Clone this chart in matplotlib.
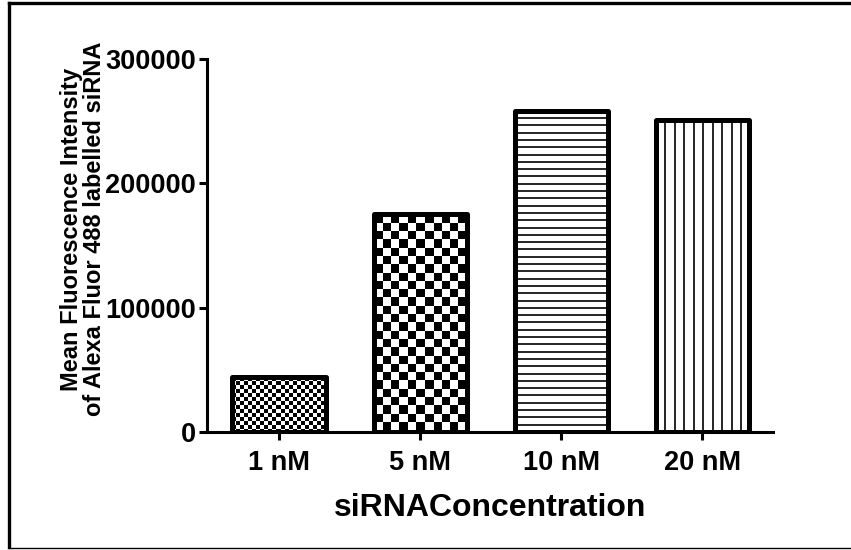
import numpy as np
import matplotlib
matplotlib.use("Agg")
import matplotlib.pyplot as plt
from matplotlib.lines import Line2D

categories = ["1 nM", "5 nM", "10 nM", "20 nM"]
values = [44000, 175000, 258000, 251000]
yticks = [0, 100000, 200000, 300000]
xlabel = "siRNAConcentration"
ylabel = "Mean Fluorescence Intensity\nof Alexa Fluor 488 labelled siRNA"

# pattern per bar (style only): kind, step in pixels
patterns = [("checker", 4.0), ("checker", 8.3), ("hlines", 7.3), ("vlines", 9.5)]

W, H, DPI = 851, 550, 100
plt.rcParams['font.family'] = ['Liberation Sans', 'DejaVu Sans']
plt.rcParams['font.weight'] = 'bold'

fig = plt.figure(figsize=(W / DPI, H / DPI), dpi=DPI)
ax = fig.add_axes([207 / W, 118 / H, (773 - 207) / W, (491.5 - 118) / H])

x = np.arange(len(categories))
bw = 0.66
ax.set_xlim(-0.51, 3.5)
ax.set_ylim(0, 300000)

base = ax.bar(x, values, width=bw, color="white", edgecolor="none", zorder=1)

# pixel -> data scale
px_x = (3.5 - (-0.51)) / (773 - 207)
px_y = 300000 / (491.5 - 118)

def checker(step, h, w):
    ii, jj = np.mgrid[0:h, 0:w]
    return ((np.floor(ii / step) + np.floor(jj / step)) % 2).astype(float)

for rect, (kind, step) in zip(base.patches, patterns):
    x0 = rect.get_x()
    x1 = x0 + rect.get_width()
    top = rect.get_height()
    if kind == "checker":
        bb = rect.get_window_extent(renderer=None)
        w_px = max(int(round(bb.width)), 1)
        h_px = max(int(round(bb.height)), 1)
        img = checker(step, h_px, w_px)
        im = ax.imshow(img, cmap="gray", vmin=0, vmax=1, extent=(x0, x1, 0, top),
                       origin="upper", interpolation="nearest", aspect="auto", zorder=2)
        im.set_clip_path(rect)
    elif kind == "hlines":
        ys = np.arange(top, 0, -step * px_y)
        lc = ax.hlines(ys, x0, x1, colors="black", linewidth=1.2, zorder=2)
        lc.set_clip_path(rect)
    else:
        xs = np.arange(x0, x1, step * px_x)
        lc = ax.vlines(xs, 0, top, colors="black", linewidth=1.2, zorder=2)
        lc.set_clip_path(rect)

edges = ax.bar(x, values, width=bw, facecolor="none", edgecolor="black",
               linewidth=3.6, zorder=3)
for p in edges.patches:
    p.set_joinstyle("round")

ax.set_aspect("auto")
ax.set_xlim(-0.51, 3.5)
ax.set_ylim(0, 300000)

for s in ["top", "right"]:
    ax.spines[s].set_visible(False)
for s in ["left", "bottom"]:
    ax.spines[s].set_linewidth(2.2)
ax.set_xticks(x)
ax.set_xticklabels(categories, fontsize=19.5, fontweight="bold")
ax.set_yticks(yticks)
ax.set_yticklabels([str(v) for v in yticks], fontsize=19.5, fontweight="bold")
ax.tick_params(axis="both", length=6, width=2.2, color="black")
ax.tick_params(axis="x", pad=7)
ax.tick_params(axis="y", pad=2)
ax.set_xlabel(xlabel, fontsize=23, fontweight="bold", labelpad=12)

fig.text(83 / W, 1 - 229 / H, ylabel, rotation=90, ha="center", va="center",
         multialignment="center", fontsize=17, fontweight="bold", linespacing=1.0)

# outer frame
fig.add_artist(Line2D([9 / W, 9 / W], [1 - 3 / H, 1 - 547 / H], transform=fig.transFigure,
                      color="black", linewidth=2.4, solid_capstyle="projecting"))
fig.add_artist(Line2D([9 / W, 1.0], [1 - 3 / H, 1 - 3 / H], transform=fig.transFigure,
                      color="black", linewidth=2.4, solid_capstyle="projecting"))
fig.add_artist(Line2D([9 / W, 1.0], [1 - 547.5 / H, 1 - 547.5 / H], transform=fig.transFigure,
                      color="black", linewidth=1.0))

fig.savefig("out.png", dpi=DPI, facecolor="white")
